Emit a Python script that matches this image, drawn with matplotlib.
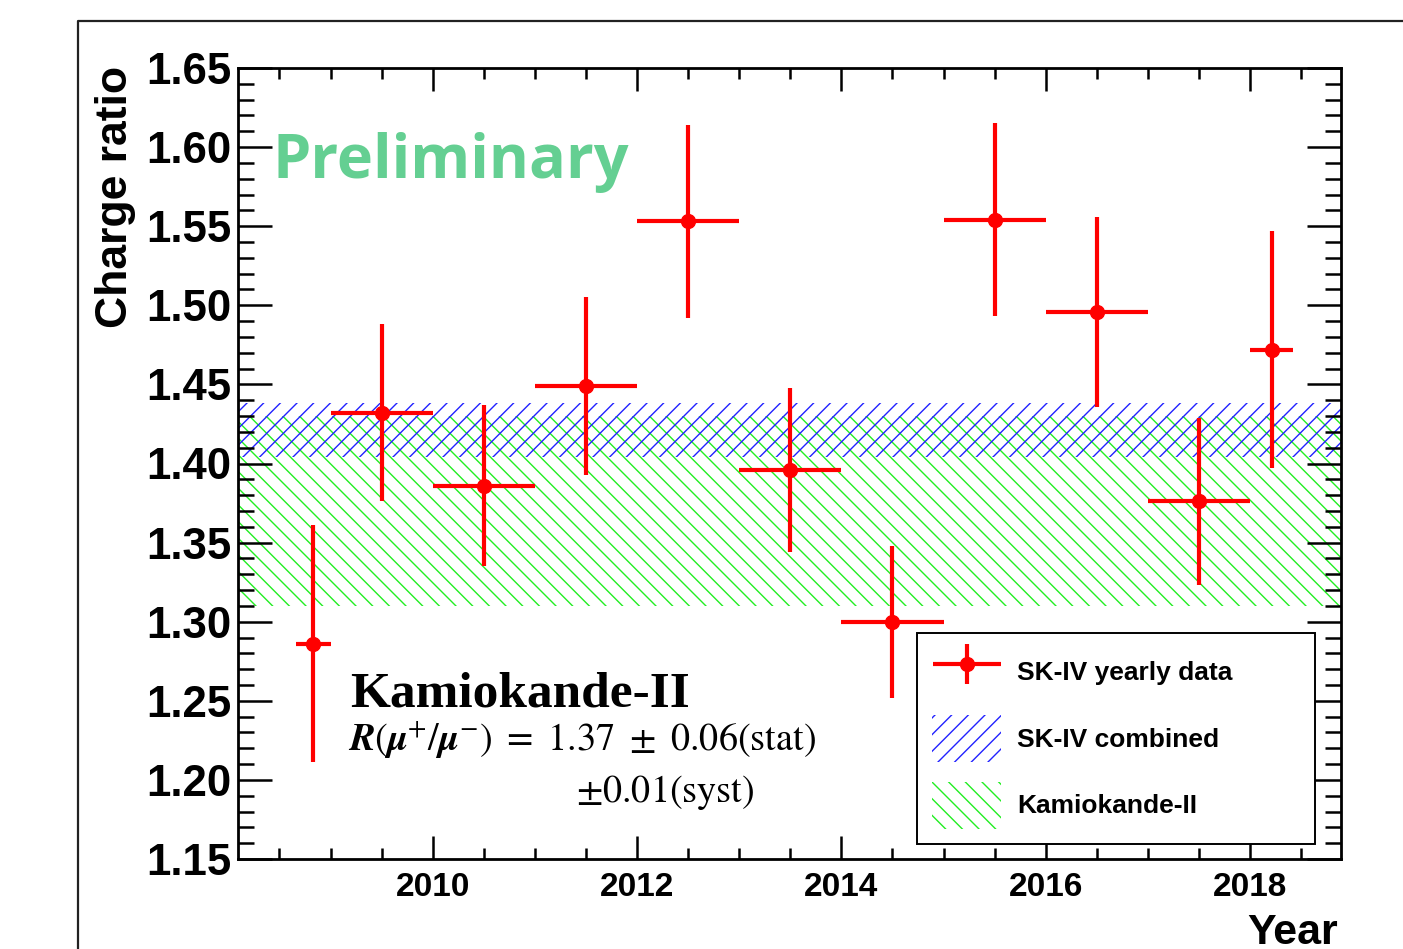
import numpy as np
import matplotlib
matplotlib.use("Agg")
from matplotlib import pyplot as plt
from matplotlib.lines import Line2D
from matplotlib.patches import Patch
from matplotlib.container import ErrorbarContainer
from matplotlib.legend_handler import HandlerErrorbar
from matplotlib.ticker import MultipleLocator

# ------------------------------ data ------------------------------------ #
years = [2008.83, 2009.5, 2010.5, 2011.5, 2012.5, 2013.5,
         2014.5, 2015.5, 2016.5, 2017.5, 2018.21]
year_err = [0.17, 0.5, 0.5, 0.5, 0.5, 0.5, 0.5, 0.5, 0.5, 0.5, 0.21]
ratio = [1.286, 1.432, 1.386, 1.449, 1.553, 1.396,
         1.300, 1.554, 1.496, 1.376, 1.472]
ratio_err = [0.075, 0.056, 0.051, 0.056, 0.061, 0.052,
             0.048, 0.061, 0.060, 0.053, 0.075]

skiv_band = (1.404, 1.438)     # SK-IV combined
kam_band = (1.31, 1.43)        # Kamiokande-II: 1.37 +- 0.06

# ------------------------------ style ----------------------------------- #
plt.rcParams['font.family'] = ['Liberation Sans', 'DejaVu Sans']
plt.rcParams['hatch.linewidth'] = 1.0
plt.rcParams['mathtext.fontset'] = 'stix'

fig = plt.figure(figsize=(14.03, 9.49), dpi=100)
ax = fig.add_axes([238/1403, 1-859/949, (1341-238)/1403, (859-68)/949])

# outer pad frame
fig.add_artist(Line2D([78/1403, 78/1403, 1.0], [0.0, 1-21/949, 1-21/949],
                      transform=fig.transFigure, color='#222222', lw=1.6))

# bands
ax.axhspan(*kam_band, facecolor='none', edgecolor='#22ee22', hatch='\\\\', lw=0)
ax.axhspan(*skiv_band, facecolor='none', edgecolor='#2222ff', hatch='//', lw=0)

# yearly points
eb = ax.errorbar(years, ratio, xerr=year_err, yerr=ratio_err, fmt='o',
                 color='red', ms=10, elinewidth=3, capsize=0, zorder=5)

ax.set_xlim(2008.094, 2018.89)
ax.set_ylim(1.15, 1.65)

ax.xaxis.set_major_locator(MultipleLocator(2))
ax.xaxis.set_minor_locator(MultipleLocator(0.5))
ax.yaxis.set_major_locator(MultipleLocator(0.05))
ax.yaxis.set_minor_locator(MultipleLocator(0.01))
ax.yaxis.set_major_formatter(plt.FormatStrFormatter('%.2f'))

ax.tick_params(which='both', direction='in', top=True, right=True, width=1.8)
ax.tick_params(axis='x', which='major', length=16.5, labelsize=24, pad=9)
ax.tick_params(axis='x', which='minor', length=8)
ax.tick_params(axis='y', which='major', length=24.5, labelsize=31.5, pad=5)
ax.tick_params(axis='y', which='minor', length=11.5)
plt.setp(ax.get_xticklabels() + ax.get_yticklabels(), fontweight='bold')
for s in ax.spines.values():
    s.set_linewidth(2)

# axis titles
fig.text(116/1403, 1-66/949, 'Charge ratio', rotation=90, ha='center',
         va='top', fontsize=32, fontweight='bold')
fig.text(1338/1403, 1-944/949, 'Year', ha='right', va='baseline',
         fontsize=31, fontweight='bold')

# annotations
ax.text(2008.43, 1.5905, 'Preliminary', family=['Open Sans', 'DejaVu Sans'],
        fontweight='bold', fontsize=44, color='#64cf92', va='center', ha='left')
ax.text(2009.19, 1.2465, 'Kamiokande-II', family=['Liberation Serif', 'DejaVu Serif'],
        fontweight='bold', fontsize=37, va='baseline', ha='left')
ax.text(2009.17, 1.219,
        r'$\mathbfit{R}(\mathbfit{\mu}^{+}/\mathbfit{\mu}^{-})\ =\ 1.37\ \pm\ 0.06(\mathrm{stat})$',
        fontsize=27.5, va='baseline', ha='left')
ax.text(2011.40, 1.186, r'$\pm0.01(\mathrm{syst})$',
        fontsize=27.5, va='baseline', ha='left')

# legend
handles = [eb,
           Patch(facecolor='white', edgecolor='#2222ff', hatch='//', lw=0),
           Patch(facecolor='white', edgecolor='#22ee22', hatch='\\\\', lw=0)]
labels = ['SK-IV yearly data', 'SK-IV combined', 'Kamiokande-II']
leg = ax.legend(handles, labels, loc='upper left',
                bbox_to_anchor=(0.6156, 0.2857, 0.3608, 0.0), mode='expand',
                borderaxespad=0,
                prop={'size': 19, 'weight': 'bold'}, handlelength=2.6,
                handleheight=2.36, handletextpad=0.6, labelspacing=0.75,
                borderpad=0.58, fancybox=False, framealpha=1,
                handler_map={ErrorbarContainer: HandlerErrorbar(xerr_size=1.29, yerr_size=0.76)})
leg.get_frame().set_edgecolor('black')
leg.get_frame().set_linewidth(1.4)

fig.savefig('out.png', dpi=100)
